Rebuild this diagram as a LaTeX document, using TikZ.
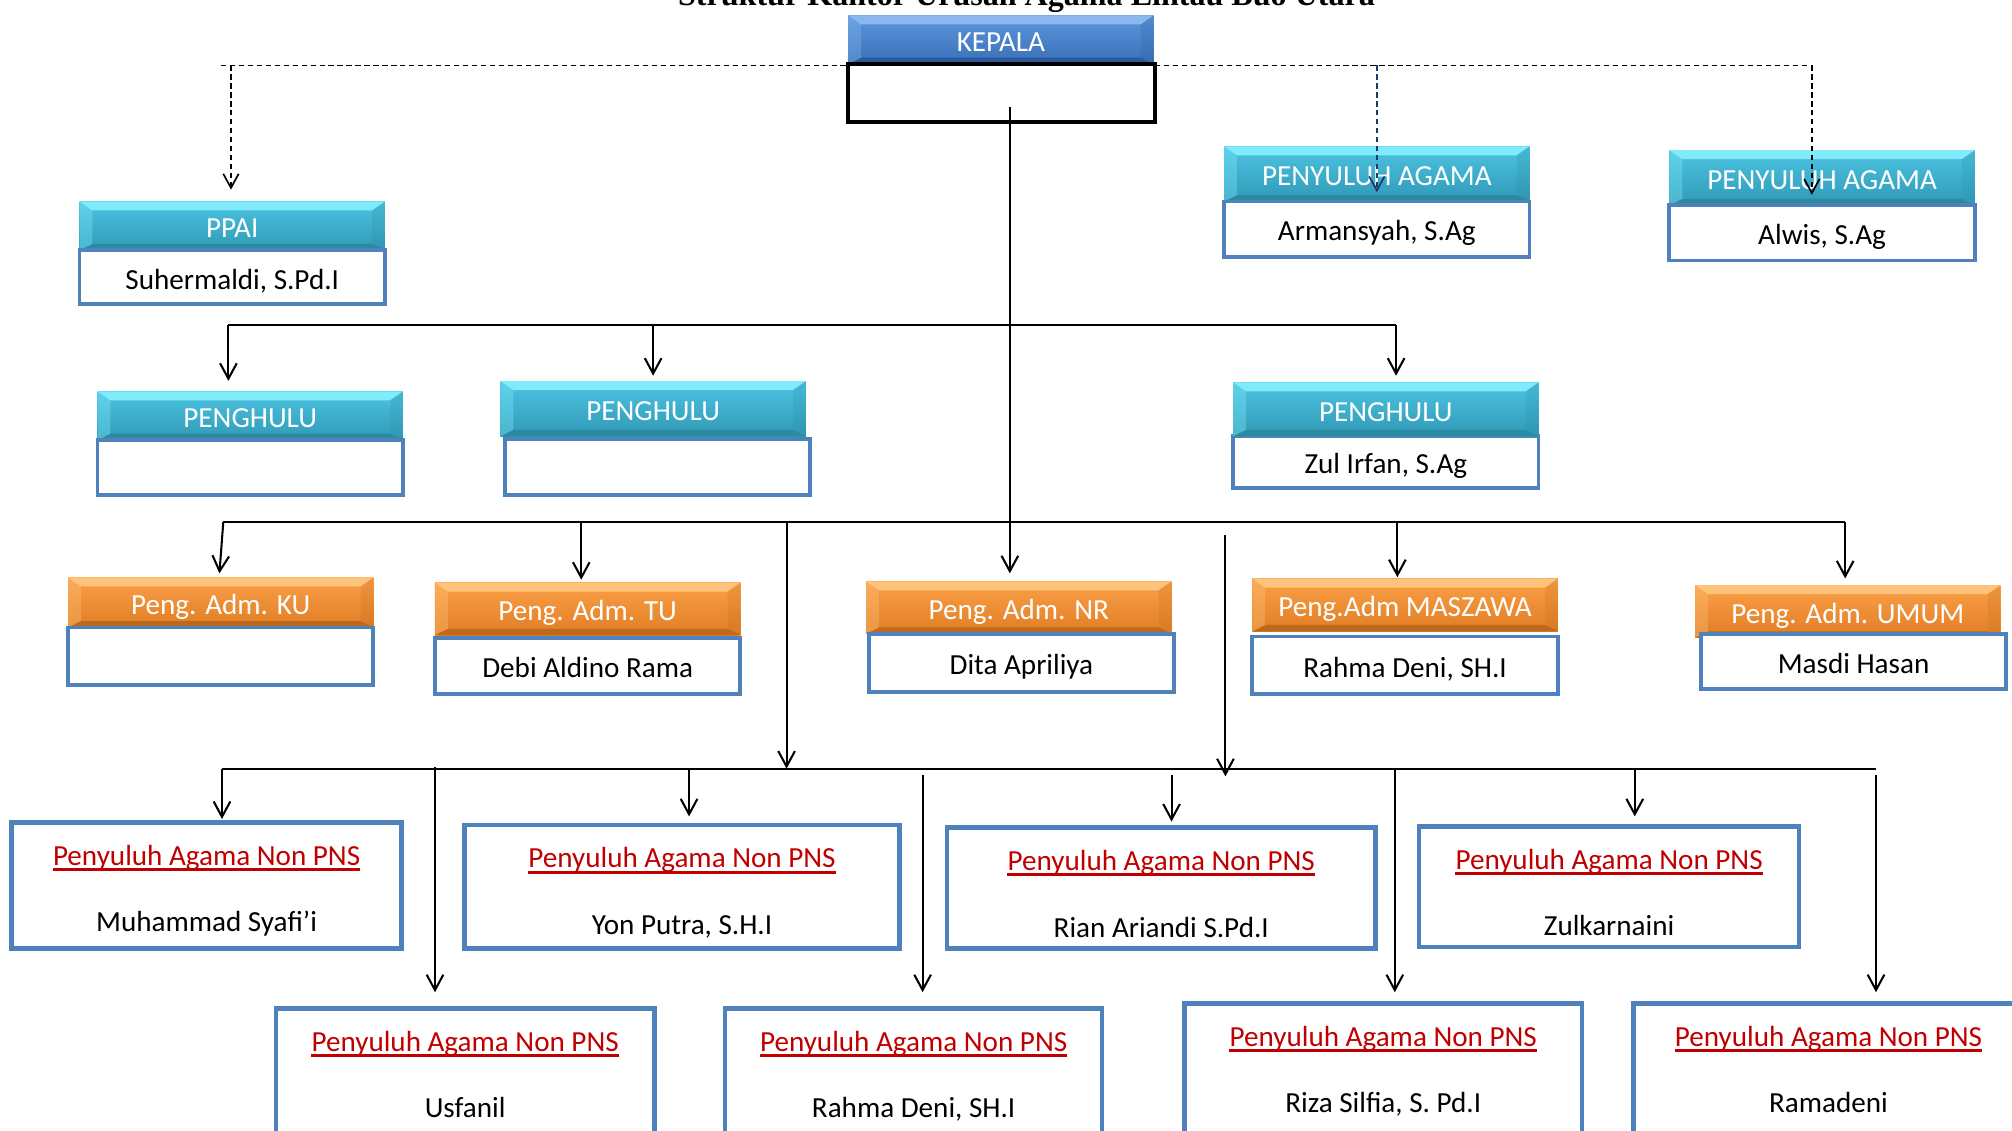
\documentclass[tikz,border=0pt]{standalone}
\usepackage{fontspec}
\setmainfont{Carlito}
\newfontfamily\titlefont{Liberation Serif}
\usetikzlibrary{arrows.meta}
\definecolor{cyTop}{HTML}{4CC4E2}
\definecolor{cyBot}{HTML}{3099B6}
\definecolor{cyLt}{HTML}{80ECFB}
\definecolor{cyDk}{HTML}{2A8AA2}
\definecolor{orTop}{HTML}{FBA048}
\definecolor{orBot}{HTML}{E07D24}
\definecolor{orLt}{HTML}{FFC47C}
\definecolor{orDk}{HTML}{BC681E}
\definecolor{blTop}{HTML}{5B97DC}
\definecolor{blBot}{HTML}{3A6FB8}
\definecolor{blLt}{HTML}{8AB8EE}
\definecolor{blDk}{HTML}{2B5A9A}
\definecolor{boxblue}{HTML}{4F81BD}
\definecolor{redc}{HTML}{C00000}
\definecolor{navy}{HTML}{1F3864}
\newcommand\tfz{\fontsize{22.7pt}{27pt}\selectfont}
\tikzset{
  bevel/.style 2 args={path picture={
    \fill[#1] (path picture bounding box.north west) -- (path picture bounding box.north east)
      -- ([xshift=-10pt,yshift=-7pt]path picture bounding box.north east)
      -- ([xshift=10pt,yshift=-7pt]path picture bounding box.north west) -- cycle;
    \fill[#2] (path picture bounding box.south west) -- (path picture bounding box.south east)
      -- ([xshift=-10pt,yshift=5pt]path picture bounding box.south east)
      -- ([xshift=10pt,yshift=5pt]path picture bounding box.south west) -- cycle;
    \fill[#1,opacity=0.35] (path picture bounding box.north west)
      -- ([xshift=10pt,yshift=-7pt]path picture bounding box.north west)
      -- ([xshift=10pt,yshift=5pt]path picture bounding box.south west)
      -- (path picture bounding box.south west) -- cycle;
    \fill[#2,opacity=0.2] (path picture bounding box.north east)
      -- ([xshift=-10pt,yshift=-7pt]path picture bounding box.north east)
      -- ([xshift=-10pt,yshift=5pt]path picture bounding box.south east)
      -- (path picture bounding box.south east) -- cycle;
  }},
  hbase/.style={rectangle, inner sep=0pt, minimum width=238pt, text=white, font=\tfz,
    text height=22pt, text depth=3.4pt},
  cyanh/.style={hbase, top color=cyTop, bottom color=cyBot, bevel={cyLt}{cyDk}},
  orgh/.style={hbase, top color=orTop, bottom color=orBot, bevel={orLt}{orDk}},
  blueh/.style={hbase, top color=blTop, bottom color=blBot, bevel={blLt}{blDk}},
  namebox/.style={draw=boxblue, line width=3pt, fill=white, inner sep=0pt, minimum width=238pt,
    font=\tfz, text height=22pt, text depth=3.4pt},
  bigbox/.style={draw=boxblue, line width=3.5pt, fill=white, inner sep=0pt},
  redt/.style={anchor=base, inner sep=0pt, text=redc, font=\tfz},
  namet/.style={anchor=base, inner sep=0pt, font=\tfz},
  ul/.style={draw=redc, line width=2.4pt},
  ln/.style={line width=1.6pt},
  arr/.style={line width=1.6pt, -{Straight Barb[length=12pt,width=13pt]}},
  darr/.style={line width=1.3pt, dash pattern=on 4pt off 3pt, -{Straight Barb[length=11pt,width=12pt]}},
}
\begin{document}
\begin{tikzpicture}[x=1pt,y=-1pt]
\useasboundingbox (0,0) rectangle (1568,881);
\fill[white] (0,0) rectangle (1568,881);

% title (cut at top, as in the reference)
\node[anchor=base, inner sep=0pt, font={\titlefont\bfseries\fontsize{25pt}{30pt}\selectfont}] (title) at (800,4.5)
  {Struktur Kantor Urusan Agama Lintau Buo Utara};

% dashed top line
\coordinate (dL) at (172,51);
\coordinate (dR) at (1413,51);
\draw[line width=1.3pt, dash pattern=on 4pt off 3pt] (dL) -- (dR);

% KEPALA
\node[blueh, minimum height=38pt] (kh) at (780,31) {KEPALA};
\node[draw=black, line width=3.5pt, fill=white, minimum width=239pt, minimum height=45pt, inner sep=0pt] (kb) at (780.5,72.5) {};

% PPAI & Penyuluh Agama
\node[cyanh, minimum height=38pt] (ppaih) at (181,176) {PPAI};
\node[namebox, minimum height=42pt] (ppaib) at (181,216) {Suhermaldi, S.Pd.I};
\node[cyanh, minimum height=43pt] (pa1h) at (1073,135.5) {PENYULUH AGAMA};
\node[namebox, minimum height=43pt] (pa1b) at (1073,178.5) {Armansyah, S.Ag};
\node[cyanh, minimum height=43pt] (pa2h) at (1420,138.5) {PENYULUH AGAMA};
\node[namebox, minimum height=43pt] (pa2b) at (1420,181.5) {Alwis, S.Ag};

% Penghulu
\node[cyanh, minimum height=38pt] (pg1h) at (195,324) {PENGHULU};
\node[namebox, minimum height=43pt] (pg1b) at (195,364.5) {};
\node[cyanh, minimum height=43pt] (pg2h) at (509,318.5) {PENGHULU};
\node[namebox, minimum height=44pt] (pg2b) at (512.5,364) {};
\node[namebox, minimum height=40pt] (pg3b) at (1080,360) {Zul Irfan, S.Ag};
\node[cyanh, minimum height=42pt] (pg3h) at (1080,319) {PENGHULU};

% Peng. Adm.
\node[orgh, minimum height=39pt] (kuh) at (172,469.5) {Peng. Adm. KU};
\node[namebox, minimum height=45pt] (kub) at (172,511.5) {};
\node[orgh, minimum height=41pt] (tuh) at (458,474.5) {Peng. Adm. TU};
\node[namebox, minimum height=44pt] (tub) at (458,519) {Debi Aldino Rama};
\node[orgh, minimum height=41pt] (nrh) at (794,473.5) {Peng. Adm. NR};
\node[namebox, minimum height=45pt] (nrb) at (796,516.5) {Dita Apriliya};
\node[orgh, minimum height=41pt] (mash) at (1095,471.5) {Peng.Adm MASZAWA};
\node[namebox, minimum height=45pt] (masb) at (1095,518.5) {Rahma Deni, SH.I};
\node[orgh, minimum height=41pt] (umh) at (1440,476.5) {Peng. Adm. UMUM};
\node[namebox, minimum height=43pt] (umb) at (1444.5,515.5) {Masdi Hasan};

% Penyuluh Agama Non PNS boxes
\node[bigbox, minimum width=304pt, minimum height=98pt] (r4a) at (161,690) {};
\node[bigbox, minimum width=339pt, minimum height=96pt] (r4b) at (531.5,691) {};
\node[bigbox, minimum width=334pt, minimum height=94pt] (r4c) at (905,692) {};
\node[bigbox, minimum width=296pt, minimum height=94pt] (r4d) at (1254,691) {};
\node[bigbox, minimum width=295pt, minimum height=120pt] (r5a) at (362.5,846) {};
\node[bigbox, minimum width=294pt, minimum height=120pt] (r5b) at (712,846) {};
\node[bigbox, minimum width=310pt, minimum height=124pt] (r5c) at (1078,844) {};
\node[bigbox, minimum width=304pt, minimum height=124pt] (r5d) at (1425,844) {};

\node[redt] (r4at) at ([yshift=-35pt]r4a.north) {Penyuluh Agama Non PNS};
\node[namet] (r4an) at ([yshift=-87pt]r4a.north) {Muhammad Syafi’i};
\node[redt] (r4bt) at ([yshift=-35pt]r4b.north) {Penyuluh Agama Non PNS};
\node[namet] (r4bn) at ([yshift=-87pt]r4b.north) {Yon Putra, S.H.I};
\node[redt] (r4ct) at ([yshift=-35pt]r4c.north) {Penyuluh Agama Non PNS};
\node[namet] (r4cn) at ([yshift=-87pt]r4c.north) {Rian Ariandi S.Pd.I};
\node[redt] (r4dt) at ([yshift=-35pt]r4d.north) {Penyuluh Agama Non PNS};
\node[namet] (r4dn) at ([yshift=-87pt]r4d.north) {Zulkarnaini};
\node[redt] (r5at) at ([yshift=-35pt]r5a.north) {Penyuluh Agama Non PNS};
\node[namet] (r5an) at ([yshift=-87pt]r5a.north) {Usfanil};
\node[redt] (r5bt) at ([yshift=-35pt]r5b.north) {Penyuluh Agama Non PNS};
\node[namet] (r5bn) at ([yshift=-87pt]r5b.north) {Rahma Deni, SH.I};
\node[redt] (r5ct) at ([yshift=-35pt]r5c.north) {Penyuluh Agama Non PNS};
\node[namet] (r5cn) at ([yshift=-87pt]r5c.north) {Riza Silfia, S. Pd.I};
\node[redt] (r5dt) at ([yshift=-35pt]r5d.north) {Penyuluh Agama Non PNS};
\node[namet] (r5dn) at ([yshift=-87pt]r5d.north) {Ramadeni};
\foreach \t in {r4at,r4bt,r4ct,r4dt,r5at,r5bt,r5ct,r5dt}{
  \draw[ul] ([yshift=-3.5pt]\t.base west) -- ([yshift=-3.5pt]\t.base east);
}

% trunk from KEPALA
\coordinate (tr) at (787,83);
\draw[arr, shorten >=6pt] (tr) -- (tr |- nrh.north);

% bus 1
\coordinate (b1L) at (178,253);
\coordinate (b1M) at (509,253);
\coordinate (b1R) at (1088,253);
\draw[ln] (b1L) -- (b1R);
\draw[arr, shorten >=8pt] (b1L) -- (b1L |- pg1h.north);
\draw[arr, shorten >=4pt] (b1M) -- (b1M |- pg2h.north);
\draw[arr, shorten >=5pt] (b1R) -- (b1R |- pg3h.north);

% bus 2
\coordinate (b2L) at (174,407);
\coordinate (b2a) at (453,407);
\coordinate (b2b) at (613,407);
\coordinate (b2c) at (1089,407);
\coordinate (b2R) at (1438,407);
\draw[ln] (b2L) -- (b2R);
\draw[arr] (b2L) -- ([xshift=-1pt,yshift=3pt]kuh.north);
\draw[arr, shorten >=2pt] (b2a) -- (b2a |- tuh.north);
\draw[arr, shorten >=1pt] (b2c) -- (b2c |- mash.north);
\draw[arr, shorten >=5pt] (b2R) -- (b2R |- umh.north);

% bus 3
\coordinate (b3L) at (173,599);
\coordinate (b3R) at (1462,599);
\coordinate (b3in1) at (613,599);
\coordinate (v2t) at (955,417);
\coordinate (v2b) at (955,605);
\draw[ln] (b3L) -- (b3R);
\draw[arr] (b2b) -- (b3in1);
\draw[arr] (v2t) -- (v2b);

\coordinate (c1) at (537,599);
\coordinate (c2) at (913,604);
\coordinate (c3) at (1274,599);
\draw[arr, shorten >=1pt] (b3L) -- (b3L |- r4a.north);
\draw[arr, shorten >=5pt] (c1) -- (c1 |- r4b.north);
\draw[arr, shorten >=3pt] (c2) -- (c2 |- r4c.north);
\draw[arr, shorten >=6pt] (c3) -- (c3 |- r4d.north);

\coordinate (e1) at (339,598);
\coordinate (e2) at (719,604);
\coordinate (e3) at (1087,599);
\coordinate (e4) at (1462,604);
\draw[arr, shorten >=11pt] (e1) -- (e1 |- r5a.north);
\draw[arr, shorten >=11pt] (e2) -- (e2 |- r5b.north);
\draw[arr, shorten >=7pt] (e3) -- (e3 |- r5c.north);
\draw[arr, shorten >=7pt] (e4) -- (e4 |- r5d.north);

% dashed arrows
\coordinate (d1) at (180,51);
\coordinate (d2) at (1073,51);
\coordinate (d3) at (1412,51);
\draw[darr, shorten >=9pt] (d1) -- (d1 |- ppaih.north);
\draw[darr, draw=navy] (d2) -- ([yshift=-36pt]pa1h.north);
\draw[darr] (d3) -- ([yshift=-35pt]d3 |- pa2h.north);
\end{tikzpicture}
\end{document}
